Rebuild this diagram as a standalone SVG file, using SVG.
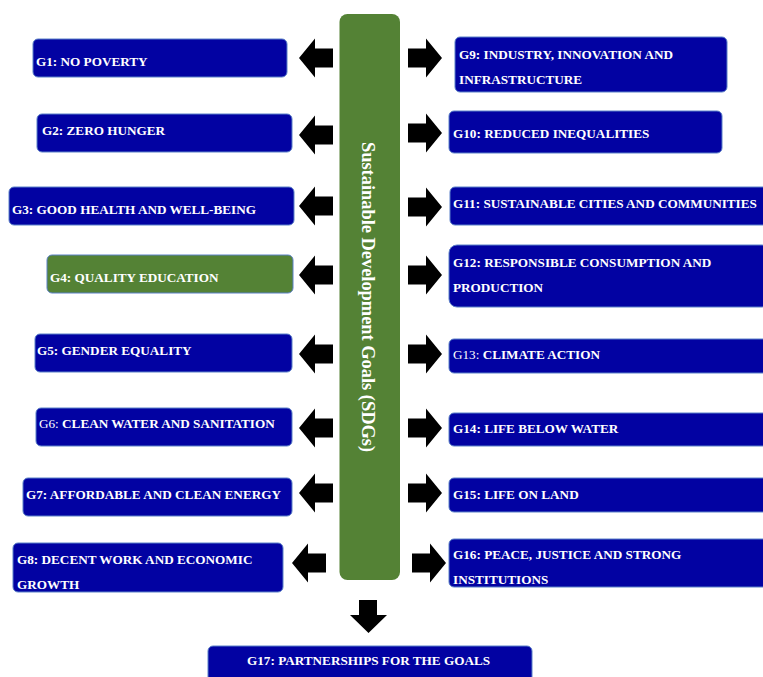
<svg xmlns="http://www.w3.org/2000/svg" width="763" height="677" viewBox="0 0 763 677">
<defs>
<style>
.box{fill:#0202A2;stroke:#5B80C8;stroke-width:1}
.gbox{fill:#548235;stroke:#5B80C8;stroke-width:1}
.t{font-family:"Liberation Serif","Times New Roman",serif;font-weight:bold;font-size:13.2px;fill:#ffffff}
.r{font-weight:normal}
.arr{fill:#000000}
</style>
<path id="al" d="M-17,0 L-1,-19.5 L-1,-9.5 L17,-9.5 L17,9.5 L-1,9.5 L-1,19.5 Z"/>
<path id="ar" d="M17,0 L1,-19.5 L1,-9.5 L-17,-9.5 L-17,9.5 L1,9.5 L1,19.5 Z"/>
</defs>
<rect width="763" height="677" fill="#ffffff"/>
<g id="center">
<rect x="339.5" y="14" width="60.5" height="566" rx="8" fill="#548235"/>
<text transform="translate(362,297) rotate(90)" text-anchor="middle" font-family="Liberation Serif,'Times New Roman',serif" font-weight="bold" font-size="18.4" fill="#ffffff">Sustainable Development Goals (SDGs)</text>
</g>
<g id="connectors" class="arr">
<use href="#al" x="316" y="58"/>
<use href="#al" x="316" y="135"/>
<use href="#al" x="316" y="206"/>
<use href="#al" x="316" y="275"/>
<use href="#al" x="316" y="354"/>
<use href="#al" x="316" y="428"/>
<use href="#al" x="316" y="493"/>
<use href="#al" x="309" y="563"/>
<use href="#ar" x="425" y="58"/>
<use href="#ar" x="425" y="133"/>
<use href="#ar" x="425" y="207"/>
<use href="#ar" x="425" y="275"/>
<use href="#ar" x="425" y="354"/>
<use href="#ar" x="425" y="428"/>
<use href="#ar" x="425" y="493"/>
<use href="#ar" x="429" y="563"/>
<path d="M359,600 L377,600 L377,615 L387,615 L368.5,633 L350,615 L359,615 Z"/>
</g>
<g id="g1"><rect class="box" x="33" y="39" width="254" height="38" rx="5"/><text class="t" x="36" y="66">G1: NO POVERTY</text></g>
<g id="g2"><rect class="box" x="37" y="114" width="255" height="38" rx="5"/><text class="t" x="42" y="135">G2: ZERO HUNGER</text></g>
<g id="g3"><rect class="box" x="9" y="187" width="285" height="38" rx="5"/><text class="t" x="12" y="214">G3: GOOD HEALTH AND WELL-BEING</text></g>
<g id="g4"><rect class="gbox" x="47" y="255" width="246" height="38" rx="5"/><text class="t" x="50" y="282">G4: QUALITY EDUCATION</text></g>
<g id="g5"><rect class="box" x="35" y="334" width="257" height="38" rx="5"/><text class="t" x="37" y="355">G5: GENDER EQUALITY</text></g>
<g id="g6"><rect class="box" x="36" y="408" width="256" height="38" rx="5"/><text class="t" x="39" y="428"><tspan class="r">G6:</tspan> CLEAN WATER AND SANITATION</text></g>
<g id="g7"><rect class="box" x="23" y="478" width="269" height="38" rx="5"/><text class="t" x="26" y="499">G7: AFFORDABLE AND CLEAN ENERGY</text></g>
<g id="g8"><rect class="box" x="13" y="543" width="270" height="49" rx="5"/><text class="t" x="17" y="564">G8: DECENT WORK AND ECONOMIC</text><text class="t" x="17" y="589">GROWTH</text></g>
<g id="g9"><rect class="box" x="455" y="37" width="272" height="55" rx="5"/><text class="t" x="459" y="59">G9: INDUSTRY, INNOVATION AND</text><text class="t" x="459" y="84">INFRASTRUCTURE</text></g>
<g id="g10"><rect class="box" x="449" y="111" width="273" height="42" rx="5"/><text class="t" x="453" y="138">G10: REDUCED INEQUALITIES</text></g>
<g id="g11"><rect class="box" x="450" y="187" width="320" height="38" rx="5"/><text class="t" x="453" y="208">G11: SUSTAINABLE CITIES AND COMMUNITIES</text></g>
<g id="g12"><rect class="box" x="449" y="245" width="321" height="62" rx="8"/><text class="t" x="453" y="267">G12: RESPONSIBLE CONSUMPTION AND</text><text class="t" x="453" y="292">PRODUCTION</text></g>
<g id="g13"><rect class="box" x="449" y="339" width="321" height="34" rx="5"/><text class="t" x="453" y="359"><tspan class="r">G13:</tspan> CLIMATE ACTION</text></g>
<g id="g14"><rect class="box" x="449" y="413" width="321" height="33" rx="5"/><text class="t" x="453" y="433">G14: LIFE BELOW WATER</text></g>
<g id="g15"><rect class="box" x="449" y="478" width="321" height="34" rx="5"/><text class="t" x="453" y="499">G15: LIFE ON LAND</text></g>
<g id="g16"><rect class="box" x="449" y="539" width="321" height="48" rx="5"/><text class="t" x="453" y="559">G16: PEACE, JUSTICE AND STRONG</text><text class="t" x="453" y="584">INSTITUTIONS</text></g>
<g id="g17"><rect class="box" x="208" y="646" width="324" height="44" rx="5"/><text class="t" x="247" y="665">G17: PARTNERSHIPS FOR THE GOALS</text></g>
</svg>
